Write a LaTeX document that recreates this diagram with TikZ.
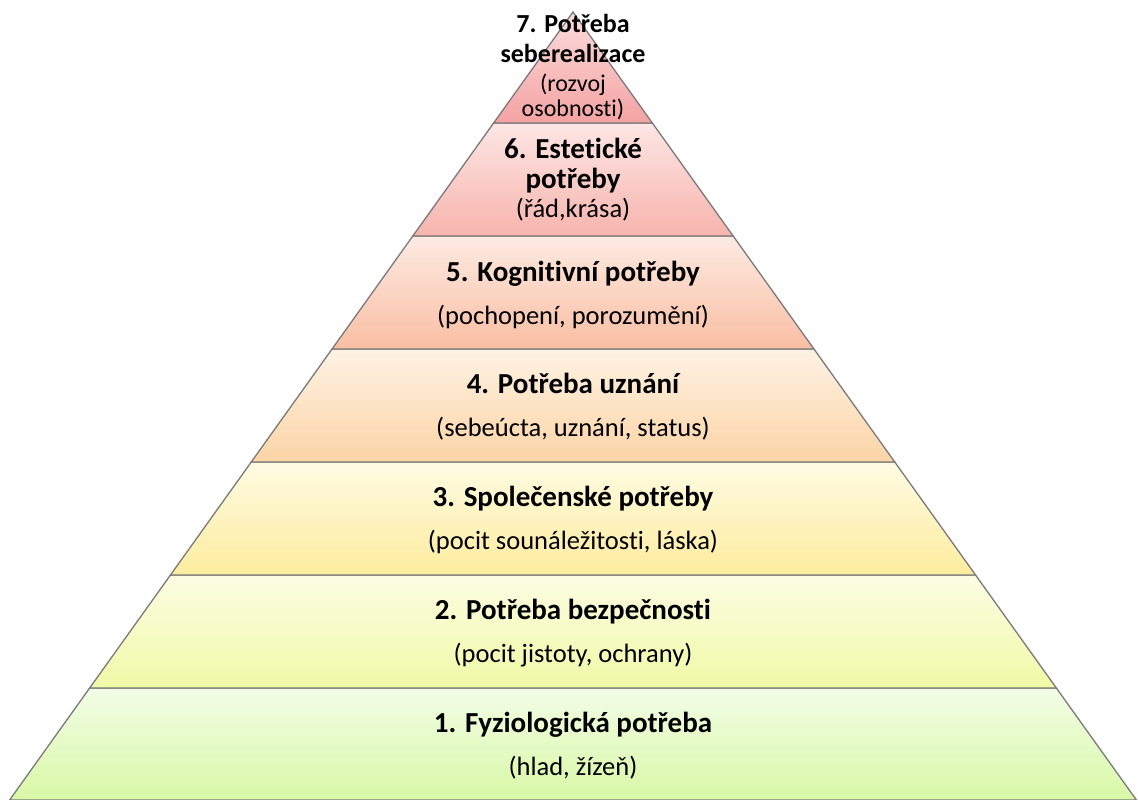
\documentclass[tikz,border=0pt]{standalone}
\usepackage{fontspec}
\setmainfont[Ligatures=NoCommon]{Carlito}
\usetikzlibrary{positioning}

\definecolor{pyrline}{HTML}{7A7A7A}
\definecolor{greenA}{HTML}{F2FDE6}
\definecolor{greenB}{HTML}{D8F8A6}
\definecolor{limeA}{HTML}{FBFDE2}
\definecolor{limeB}{HTML}{EFFAA6}
\definecolor{yellowA}{HTML}{FFFBE3}
\definecolor{yellowB}{HTML}{FDEC9E}
\definecolor{orangeA}{HTML}{FEF2E4}
\definecolor{orangeB}{HTML}{FCD4A6}
\definecolor{salmonA}{HTML}{FDEAE2}
\definecolor{salmonB}{HTML}{F9BEA3}
\definecolor{roseA}{HTML}{FDE6E4}
\definecolor{roseB}{HTML}{F7B4AD}
\definecolor{redA}{HTML}{FCDCDC}
\definecolor{redB}{HTML}{F4A2A2}

\tikzset{
  layer/.style={draw=pyrline, line width=1.3pt},
  title/.style={font=\fontsize{29}{30}\selectfont\bfseries, anchor=base, inner sep=0pt},
  titlesmall/.style={font=\fontsize{26}{30}\selectfont\bfseries, anchor=base, inner sep=0pt},
  sub/.style={font=\fontsize{26.5}{30}\selectfont, anchor=base, inner sep=0pt},
  subsmall/.style={font=\fontsize{24}{26}\selectfont, anchor=base, inner sep=0pt}
}

\begin{document}
\begin{tikzpicture}[x=1pt,y=-1pt]
  \useasboundingbox (0,0) rectangle (1138,800);
  % layers of the pyramid, apex at (573,12)
  \foreach \ya/\yb/\ca/\cb in {688/800/greenA/greenB, 575/688/limeA/limeB,
      462/575/yellowA/yellowB, 349/462/orangeA/orangeB, 236/349/salmonA/salmonB,
      123/236/roseA/roseB, 12/123/redA/redB}{
    \pgfmathsetmacro{\wa}{(\ya-12)*0.715}
    \pgfmathsetmacro{\wb}{(\yb-12)*0.715}
    \shade[top color=\ca, bottom color=\cb] (573-\wa,\ya) -- (573+\wa,\ya)
        -- (573+\wb,\yb) -- (573-\wb,\yb) -- cycle;
    \draw[layer] (573-\wa,\ya) -- (573+\wa,\ya) -- (573+\wb,\yb) -- (573-\wb,\yb) -- cycle;
  }
  % texts
  \node[title] (t1) at (573,732) {1. Fyziologická potřeba};
  \node[sub] (s1) at (573,775) {(hlad, žízeň)};
  \node[title] (t2) at (573,619) {2. Potřeba bezpečnosti};
  \node[sub] (s2) at (573,662) {(pocit jistoty, ochrany)};
  \node[title] (t3) at (573,506) {3. Společenské potřeby};
  \node[sub] (s3) at (573,549) {(pocit sounáležitosti, láska)};
  \node[title] (t4) at (573,393) {4. Potřeba uznání};
  \node[sub] (s4) at (573,436) {(sebeúcta, uznání, status)};
  \node[title] (t5) at (573,281) {5. Kognitivní potřeby};
  \node[sub] (s5) at (573,324) {(pochopení, porozumění)};
  \node[title] (t6a) at (573,158) {6. Estetické};
  \node[title] (t6b) at (573,188) {potřeby};
  \node[sub] (s6) at (573,217) {(řád,krása)};
  \node[titlesmall] (t7a) at (573,33) {7. Potřeba};
  \node[titlesmall] (t7b) at (573,63) {seberealizace};
  \node[subsmall] (s7a) at (573,92) {(rozvoj};
  \node[subsmall] (s7b) at (573,117) {osobnosti)};
\end{tikzpicture}
\end{document}
